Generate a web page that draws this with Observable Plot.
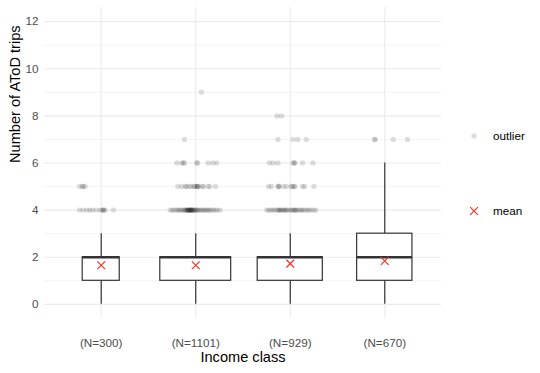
<!DOCTYPE html>
<html><head><meta charset="utf-8">
<script src="https://cdn.jsdelivr.net/npm/d3@7"></script>
<script src="https://cdn.jsdelivr.net/npm/@observablehq/plot@0.6"></script>
<style>body{margin:0;background:#fff;} #chart{position:relative;width:540px;height:373px;}</style>
</head><body><div id="chart"></div>
<script>
// Categories and box statistics
const groups = ["(N=300)", "(N=1101)", "(N=929)", "(N=670)"];
const counts = [300, 1101, 929, 670];
const whiskerLow = [0, 0, 0, 0];
const q1 = [1, 1, 1, 1];
const median = [2, 2, 2, 2];
const q3 = [2, 2, 2, 3];
const whiskerHigh = [3, 3, 3, 6];
const means = [1.66, 1.66, 1.73, 1.84];

// Outlier rows: group index, value, horizontal jitter (fraction of category spacing)
const outlierGroups = [0, 0, 1, 1, 1, 1, 1, 2, 2, 2, 2, 2, 3];
const outlierValues = [5, 4, 9, 7, 6, 5, 4, 8, 7, 6, 5, 4, 7];
const outlierJitters = [
  [-0.23, -0.20, -0.19, -0.17],
  [-0.23, -0.19, -0.15, -0.12, -0.09, -0.05, -0.01, 0.01, 0.02, 0.03, 0.04, 0.13],
  [0.06],
  [-0.12],
  [-0.20, -0.15, -0.13, -0.12, 0.01, 0.02, 0.13, 0.18, 0.22],
  [-0.19, -0.15, -0.11, -0.10, -0.07, -0.05, -0.02, -0.01, 0.01, 0.02, 0.02, 0.03, 0.07, 0.08, 0.13, 0.15, 0.21],
  [-0.27, -0.25, -0.23, -0.21, -0.19, -0.18, -0.16, -0.15, -0.13, -0.12, -0.11, -0.10, -0.09, -0.09, -0.08, -0.08,
   -0.07, -0.07, -0.06, -0.06, -0.05, -0.05, -0.04, -0.04, -0.03, -0.03, -0.02, -0.01, 0.00, 0.01, 0.02, 0.03,
   0.05, 0.06, 0.08, 0.09, 0.11, 0.12, 0.14, 0.15, 0.17, 0.19, 0.21, 0.23, 0.26],
  [-0.14, -0.09],
  [-0.13, 0.03, 0.08, 0.17],
  [-0.22, -0.18, -0.13, 0.03, 0.04, 0.05, 0.13, 0.24],
  [-0.23, -0.20, -0.13, -0.12, -0.12, -0.07, -0.04, 0.01, 0.02, 0.04, 0.05, 0.13, 0.15, 0.25],
  [-0.25, -0.23, -0.21, -0.19, -0.17, -0.15, -0.13, -0.12, -0.11, -0.10, -0.09, -0.07, -0.06, -0.05, -0.04, -0.02,
   0.00, 0.01, 0.03, 0.04, 0.05, 0.06, 0.07, 0.09, 0.11, 0.12, 0.14, 0.16, 0.18, 0.20, 0.22, 0.25, 0.27],
  [-0.11, -0.10, 0.09, 0.24]
];

// Tick values
const yMajorTicks = [0, 2, 4, 6, 8, 10, 12];
const yMinorTicks = [1, 3, 5, 7, 9, 11];
const xTicks = [1, 2, 3, 4];

const maxN = d3.max(counts);
const boxes = groups.map((g, i) => {
  const half = 0.375 * Math.sqrt(counts[i] / maxN);
  return {pos: i + 1, x1: i + 1 - half, x2: i + 1 + half,
    lo: whiskerLow[i], q1: q1[i], med: median[i], q3: q3[i], hi: whiskerHigh[i], mean: means[i]};
});
const pts = [];
outlierGroups.forEach((gi, k) => outlierJitters[k].forEach(j => pts.push({x: gi + 1 + j, y: outlierValues[k]})));

const grid = "#ebebeb";
const box = "#333333";
const red = "#ea3b30";

const chart = Plot.plot({
  width: 540, height: 373,
  marginLeft: 44, marginRight: 99, marginTop: 7, marginBottom: 55,
  style: {fontFamily: "'Liberation Sans', Arial, sans-serif", fontSize: "11.7px", background: "#fff", overflow: "visible"},
  x: {type: "linear", domain: [0.4, 4.6]},
  y: {domain: [-0.6, 12.6]},
  marks: [
    Plot.ruleY(yMinorTicks, {stroke: grid, strokeWidth: 0.55}),
    Plot.ruleY(yMajorTicks, {stroke: grid, strokeWidth: 1.1}),
    Plot.ruleX(xTicks, {stroke: grid, strokeWidth: 1.1}),
    Plot.axisY({ticks: yMajorTicks, tickSize: 0, tickPadding: 6, fill: "#4d4d4d", fontSize: 11.7, label: null}),
    Plot.axisX({ticks: xTicks, tickFormat: d => groups[d - 1], tickSize: 0, tickPadding: 20, fill: "#4d4d4d", fontSize: 11.7, label: null}),
    Plot.ruleX(boxes, {x: "pos", y1: "q3", y2: "hi", stroke: box, strokeWidth: 1.2}),
    Plot.ruleX(boxes, {x: "pos", y1: "lo", y2: "q1", stroke: box, strokeWidth: 1.2}),
    Plot.rect(boxes, {x1: "x1", x2: "x2", y1: "q1", y2: "q3", fill: "white", stroke: box, strokeWidth: 1.2}),
    Plot.ruleY(boxes, {x1: "x1", x2: "x2", y: "med", stroke: box, strokeWidth: 2.4}),
    Plot.dot(pts, {x: "x", y: "y", r: 2.7, fill: "black", fillOpacity: 0.13, stroke: null}),
    Plot.dot(boxes, {x: "pos", y: "mean", symbol: "times", r: 3.6, stroke: red, strokeWidth: 1.3}),
    Plot.text(["Income class"], {frameAnchor: "bottom", dy: 43, fontSize: 14.6, fill: "#000"}),
    Plot.text(["Number of AToD trips"], {frameAnchor: "left", dx: -29, rotate: -90, fontSize: 14.6, fill: "#000"})
  ]
});

const svg = d3.select(chart);
const lg = svg.append("g").attr("font-family", "'Liberation Sans', Arial, sans-serif").attr("font-size", 11.7).attr("text-anchor", "start");
lg.append("circle").attr("cx", 474).attr("cy", 136).attr("r", 2.7).attr("fill", "black").attr("fill-opacity", 0.13);
lg.append("text").attr("x", 493).attr("y", 136).attr("dy", "0.35em").attr("fill", "#000").text("outlier");
lg.append("path").attr("transform", "translate(474,211)")
  .attr("d", d3.symbol(d3.symbolTimes, Math.PI * 3.6 * 3.6)())
  .attr("fill", "none").attr("stroke", red).attr("stroke-width", 1.3);
lg.append("text").attr("x", 493).attr("y", 211).attr("dy", "0.35em").attr("fill", "#000").text("mean");

document.getElementById("chart").appendChild(chart);
</script>
</body></html>
